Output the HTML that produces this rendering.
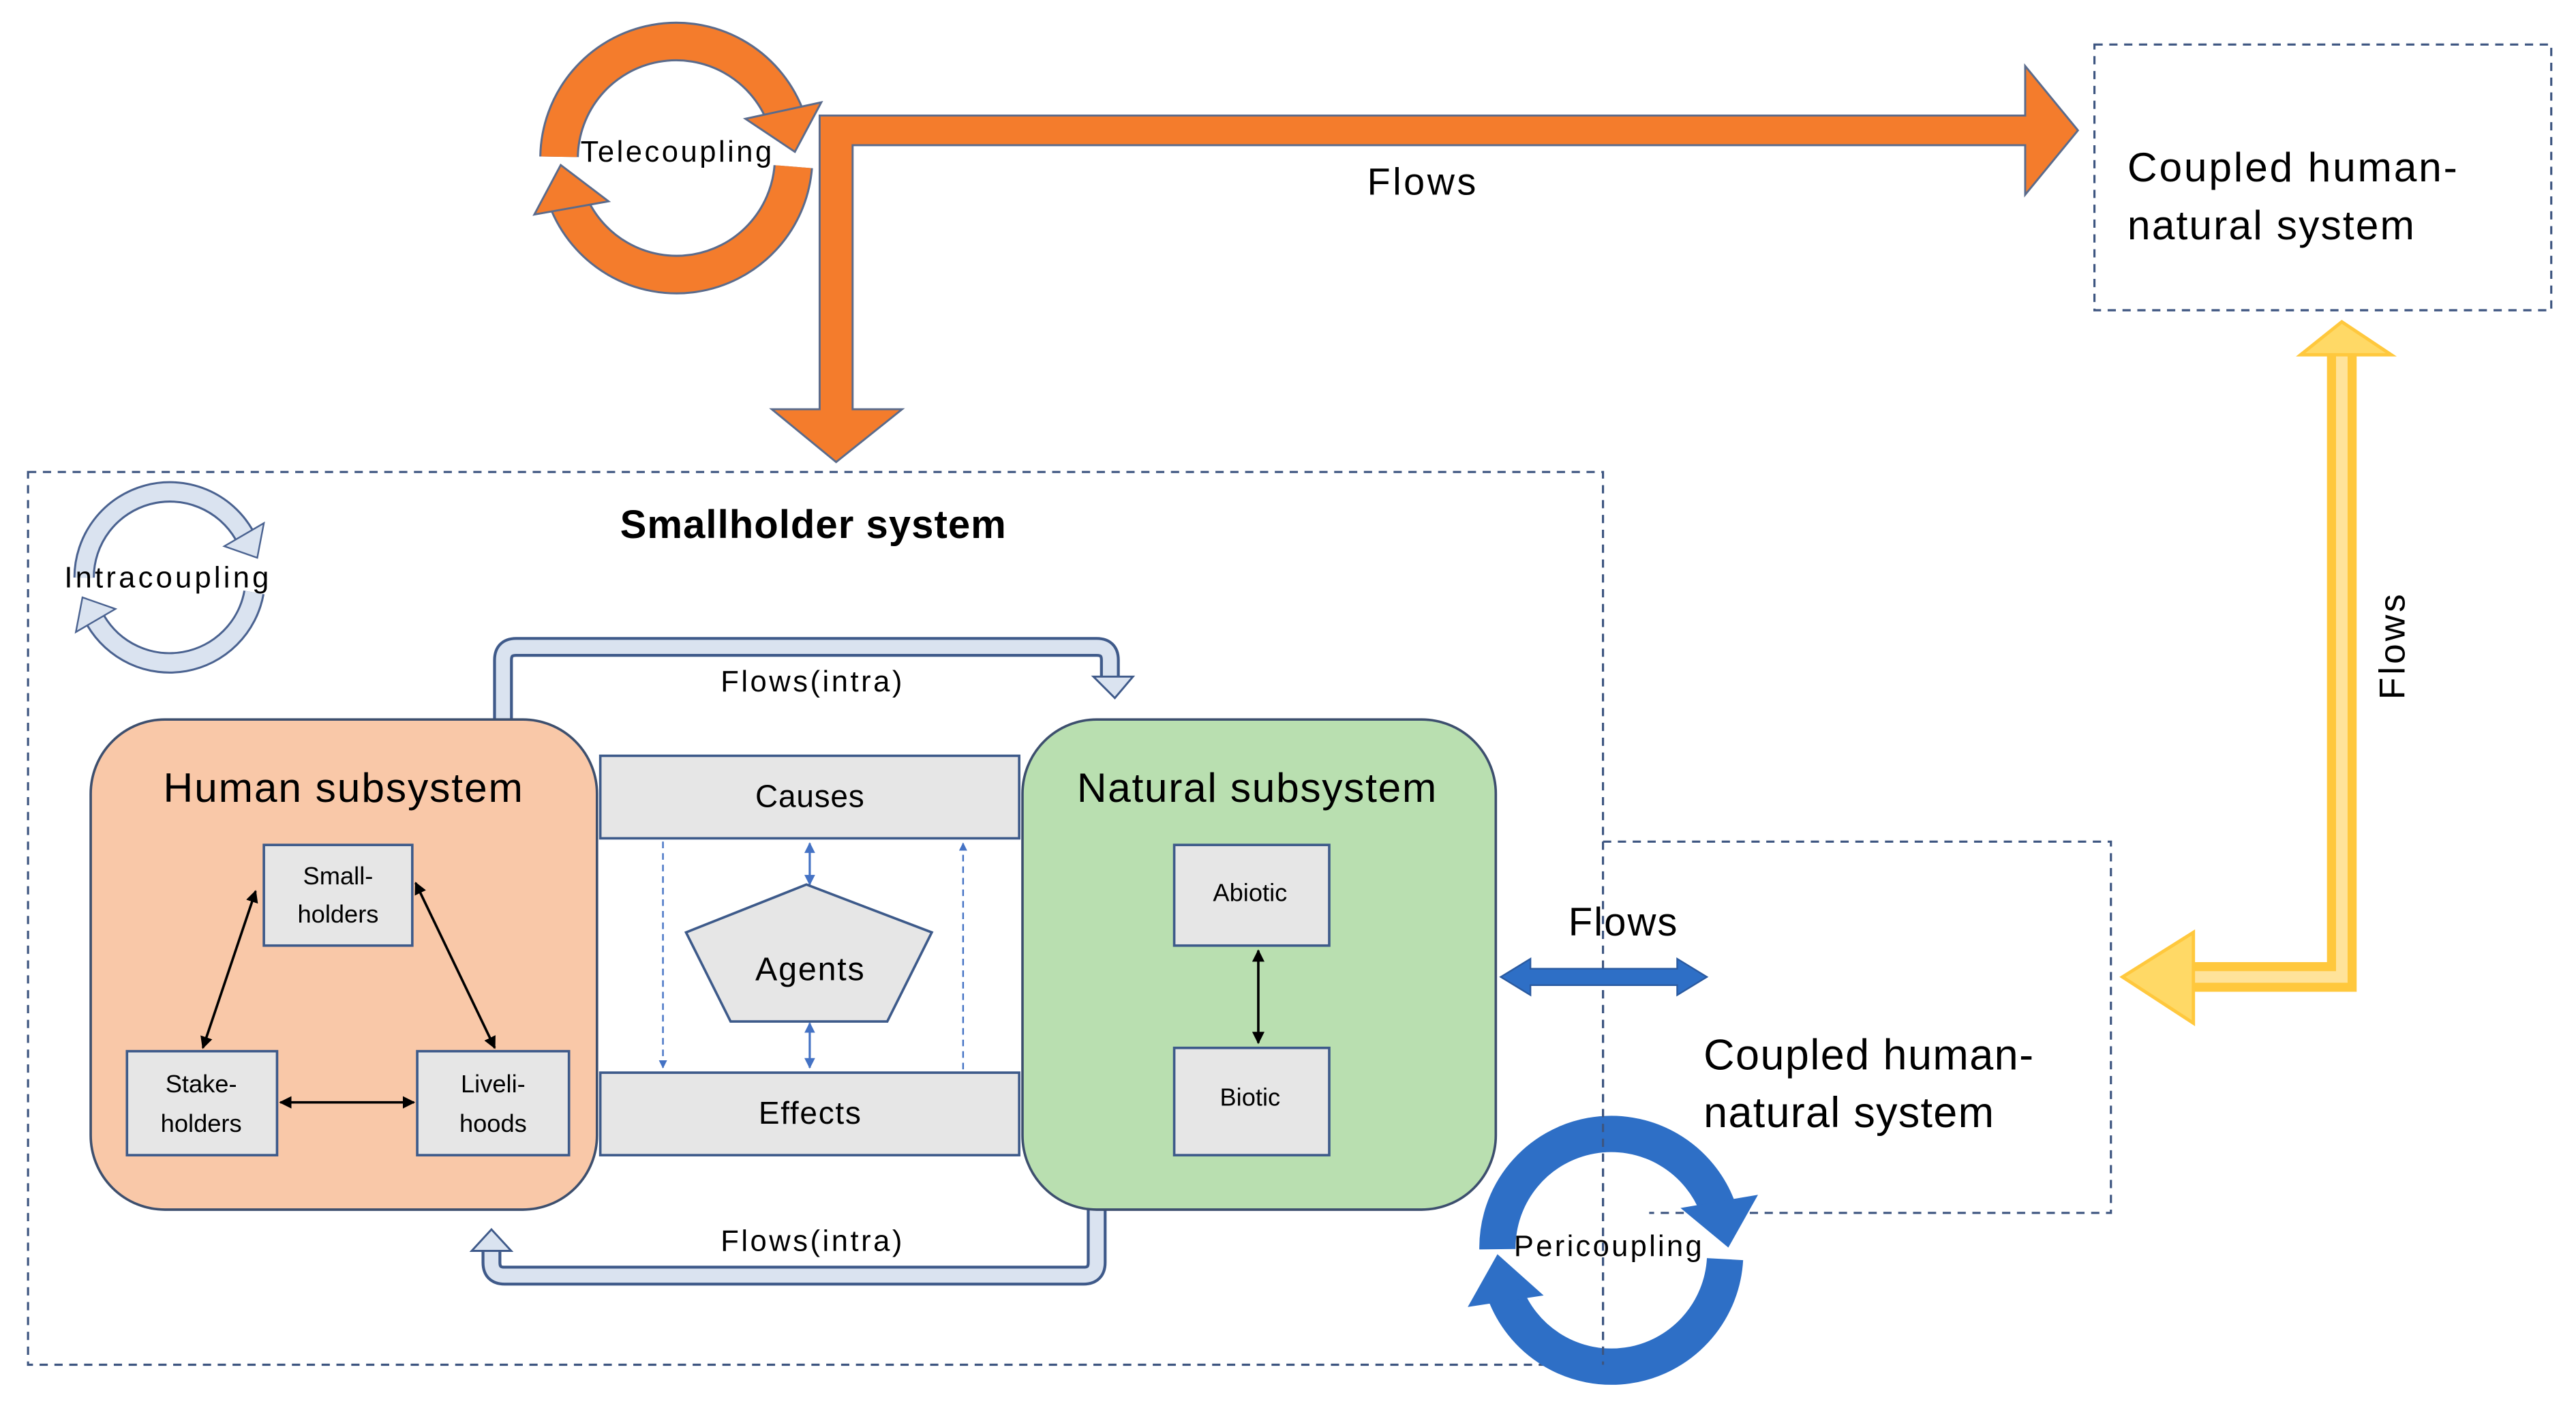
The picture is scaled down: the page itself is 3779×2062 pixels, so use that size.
<!DOCTYPE html>
<html><head><meta charset="utf-8"><style>
html,body{margin:0;padding:0;background:#fff;}
svg{display:block;}
text{font-family:"Liberation Sans",sans-serif;fill:#000;}
</style></head><body>
<svg width="3779" height="2062" viewBox="0 0 1562 852" preserveAspectRatio="none" xmlns="http://www.w3.org/2000/svg">
<rect width="1562" height="852" fill="#fff"/>

<!-- Dashed boxes -->
<rect x="1270" y="27" width="277" height="161" fill="none" stroke="#3d5580" stroke-width="1.3" stroke-dasharray="5,4"/>
<rect x="17" y="286" width="955" height="541" fill="none" stroke="#3d5580" stroke-width="1.3" stroke-dasharray="5,4"/>
<polyline points="972,510 1280,510 1280,735 1000,735" fill="none" stroke="#3d5580" stroke-width="1.3" stroke-dasharray="5,4"/>

<!-- Orange L arrow -->
<path d="M497,70 H1228 V40 L1260,79 L1228,118 V88 H517 V248 H547 L507,280 L468,248 H497 Z" fill="#F47C2C" stroke="#5a6b8c" stroke-width="1.2"/>
<text x="862" y="118" font-size="23" text-anchor="middle" textLength="66">Flows</text>

<!-- Telecoupling ring -->
<g>
<path d="M339,95 A71,71 0 0 1 476,70" fill="none" stroke="#5a6b8c" stroke-width="24"/>
<path d="M339,95 A71,71 0 0 1 476,70" fill="none" stroke="#F47C2C" stroke-width="21.5"/>
<polygon points="498,62 452,72 482,92" fill="#F47C2C" stroke="#5a6b8c" stroke-width="1.2"/>
<path d="M481,101 A71,71 0 0 1 344,121" fill="none" stroke="#5a6b8c" stroke-width="24"/>
<path d="M481,101 A71,71 0 0 1 344,121" fill="none" stroke="#F47C2C" stroke-width="21.5"/>
<polygon points="324,130 369,122 340,100" fill="#F47C2C" stroke="#5a6b8c" stroke-width="1.2"/>
<text x="410" y="98" font-size="18" text-anchor="middle" textLength="116">Telecoupling</text>
</g>

<text x="1290" y="110" font-size="25" textLength="200">Coupled human-</text>
<text x="1290" y="145" font-size="25" textLength="174">natural system</text>

<!-- Yellow arrow -->
<path d="M1420,212 V592 H1328" fill="none" stroke="#FFC83D" stroke-width="18"/>
<path d="M1420,212 V592 H1328" fill="none" stroke="#FFE39A" stroke-width="7"/>
<polygon points="1395,215 1450,215 1420,195" fill="#FFD966" stroke="#FFC83D" stroke-width="2"/>
<polygon points="1330,565 1330,620 1287,592" fill="#FFD966" stroke="#FFC83D" stroke-width="2"/>
<text transform="translate(1458,392) rotate(-90)" font-size="22" text-anchor="middle" textLength="64">Flows</text>

<!-- Smallholder title -->
<text x="493" y="326" font-size="24" font-weight="bold" text-anchor="middle" textLength="234">Smallholder system</text>

<!-- Intracoupling ring -->
<g>
<path d="M51,350 A52,52 0 0 1 148,324" fill="none" stroke="#4a6290" stroke-width="13"/>
<path d="M51,350 A52,52 0 0 1 148,324" fill="none" stroke="#DAE3F0" stroke-width="10.5"/>
<polygon points="160,317 136,331 156,338" fill="#DAE3F0" stroke="#4a6290" stroke-width="1"/>
<path d="M154,359 A52,52 0 0 1 58,376" fill="none" stroke="#4a6290" stroke-width="13"/>
<path d="M154,359 A52,52 0 0 1 58,376" fill="none" stroke="#DAE3F0" stroke-width="10.5"/>
<polygon points="46,383 70,369 50,362" fill="#DAE3F0" stroke="#4a6290" stroke-width="1"/>
<text x="101" y="356" font-size="18" text-anchor="middle" textLength="124">Intracoupling</text>
</g>

<!-- Flows(intra) connectors -->
<path d="M305,440 V400 Q305,392 313,392 H665 Q673,392 673,400 V411" fill="none" stroke="#3f5a8a" stroke-width="12"/>
<path d="M305,440 V400 Q305,392 313,392 H665 Q673,392 673,400 V412" fill="none" stroke="#DAE3F0" stroke-width="8.5"/>
<polygon points="663,410 687,410 676,423" fill="#DAE3F0" stroke="#3f5a8a" stroke-width="1.2"/>
<text x="492" y="419" font-size="18" text-anchor="middle" textLength="110">Flows(intra)</text>

<path d="M665,730 V765 Q665,773 657,773 H306 Q298,773 298,765 V757" fill="none" stroke="#3f5a8a" stroke-width="12"/>
<path d="M665,730 V765 Q665,773 657,773 H306 Q298,773 298,765 V756" fill="none" stroke="#DAE3F0" stroke-width="8.5"/>
<polygon points="286,758 310,758 298,745" fill="#DAE3F0" stroke="#3f5a8a" stroke-width="1.2"/>
<text x="492" y="758" font-size="18" text-anchor="middle" textLength="110">Flows(intra)</text>

<!-- Causes / Effects -->
<rect x="364" y="458" width="254" height="50" fill="#E6E6E6" stroke="#3d5a8a" stroke-width="1.5"/>
<rect x="364" y="650" width="254" height="50" fill="#E6E6E6" stroke="#3d5a8a" stroke-width="1.5"/>
<text x="491" y="489" font-size="19" text-anchor="middle" textLength="66">Causes</text>
<text x="491" y="681" font-size="19" text-anchor="middle" textLength="62">Effects</text>

<defs>
<marker id="bh" viewBox="0 0 10 10" refX="9" refY="5" markerWidth="5" markerHeight="5" orient="auto-start-reverse"><path d="M0,0 L10,5 L0,10 z" fill="#4472C4"/></marker>
<marker id="kh" viewBox="0 0 10 10" refX="9" refY="5" markerWidth="5" markerHeight="5" orient="auto-start-reverse"><path d="M0,0 L10,5 L0,10 z" fill="#000"/></marker>
</defs>
<line x1="402" y1="510" x2="402" y2="647" stroke="#4472C4" stroke-width="1" stroke-dasharray="4,3" marker-end="url(#bh)"/>
<line x1="584" y1="648" x2="584" y2="511" stroke="#4472C4" stroke-width="1" stroke-dasharray="4,3" marker-end="url(#bh)"/>
<line x1="491" y1="511" x2="491" y2="536" stroke="#4472C4" stroke-width="1.3" marker-start="url(#bh)" marker-end="url(#bh)"/>
<line x1="491" y1="620" x2="491" y2="647" stroke="#4472C4" stroke-width="1.3" marker-start="url(#bh)" marker-end="url(#bh)"/>

<polygon points="489,536 565,565 538,619 443,619 416,565" fill="#E6E6E6" stroke="#3d5a8a" stroke-width="1.5"/>
<text x="491" y="594" font-size="20" text-anchor="middle" textLength="66">Agents</text>

<!-- Human subsystem -->
<rect x="55" y="436" width="307" height="297" rx="45" fill="#F9C8A8" stroke="#3d4f6e" stroke-width="1.5"/>
<text x="208" y="486" font-size="25" text-anchor="middle" textLength="218">Human subsystem</text>
<rect x="160" y="512" width="90" height="61" fill="#E6E6E6" stroke="#3d5a8a" stroke-width="1.5"/>
<rect x="77" y="637" width="91" height="63" fill="#E6E6E6" stroke="#3d5a8a" stroke-width="1.5"/>
<rect x="253" y="637" width="92" height="63" fill="#E6E6E6" stroke="#3d5a8a" stroke-width="1.5"/>
<text x="205" y="536" font-size="15" text-anchor="middle">Small-</text>
<text x="205" y="559" font-size="15" text-anchor="middle">holders</text>
<text x="122" y="662" font-size="15" text-anchor="middle">Stake-</text>
<text x="122" y="686" font-size="15" text-anchor="middle">holders</text>
<text x="299" y="662" font-size="15" text-anchor="middle">Liveli-</text>
<text x="299" y="686" font-size="15" text-anchor="middle">hoods</text>
<line x1="155" y1="540" x2="123" y2="635" stroke="#000" stroke-width="1.5" marker-start="url(#kh)" marker-end="url(#kh)"/>
<line x1="252" y1="535" x2="300" y2="635" stroke="#000" stroke-width="1.5" marker-start="url(#kh)" marker-end="url(#kh)"/>
<line x1="170" y1="668" x2="251" y2="668" stroke="#000" stroke-width="1.5" marker-start="url(#kh)" marker-end="url(#kh)"/>

<!-- Natural subsystem -->
<rect x="620" y="436" width="287" height="297" rx="45" fill="#B9DFB0" stroke="#3d4f6e" stroke-width="1.5"/>
<text x="762" y="486" font-size="25" text-anchor="middle" textLength="218">Natural subsystem</text>
<rect x="712" y="512" width="94" height="61" fill="#E6E6E6" stroke="#3d5a8a" stroke-width="1.5"/>
<rect x="712" y="635" width="94" height="65" fill="#E6E6E6" stroke="#3d5a8a" stroke-width="1.5"/>
<text x="758" y="546" font-size="15" text-anchor="middle">Abiotic</text>
<text x="758" y="670" font-size="15" text-anchor="middle">Biotic</text>
<line x1="763" y1="576" x2="763" y2="632" stroke="#000" stroke-width="1.5" marker-start="url(#kh)" marker-end="url(#kh)"/>

<!-- Blue flows double arrow -->
<polygon points="910,592 928,581 928,587 1017,587 1017,581 1035,592 1017,603 1017,597 928,597 928,603" fill="#2E6FC6" stroke="#2a5aa0" stroke-width="1"/>
<text x="984" y="567" font-size="24" text-anchor="middle" textLength="66">Flows</text>

<text x="1033" y="648" font-size="26" textLength="200">Coupled human-</text>
<text x="1033" y="683" font-size="26" textLength="176">natural system</text>

<!-- Pericoupling ring -->
<g>
<path d="M908,757 A69,69 0 0 1 1042,733" fill="none" stroke="#2E6FC6" stroke-width="22"/>
<polygon points="1066,724 1019,732 1048,756" fill="#2E6FC6"/>
<path d="M1046,763 A69,69 0 0 1 912,782" fill="none" stroke="#2E6FC6" stroke-width="22"/>
<polygon points="890,792 936,785 908,760" fill="#2E6FC6"/>
<line x1="972" y1="600" x2="972" y2="827" stroke="#3d5580" stroke-width="1.3" stroke-dasharray="5,4"/>
<text x="975" y="761" font-size="18" text-anchor="middle" textLength="114">Pericoupling</text>
</g>
</svg>
</body></html>
